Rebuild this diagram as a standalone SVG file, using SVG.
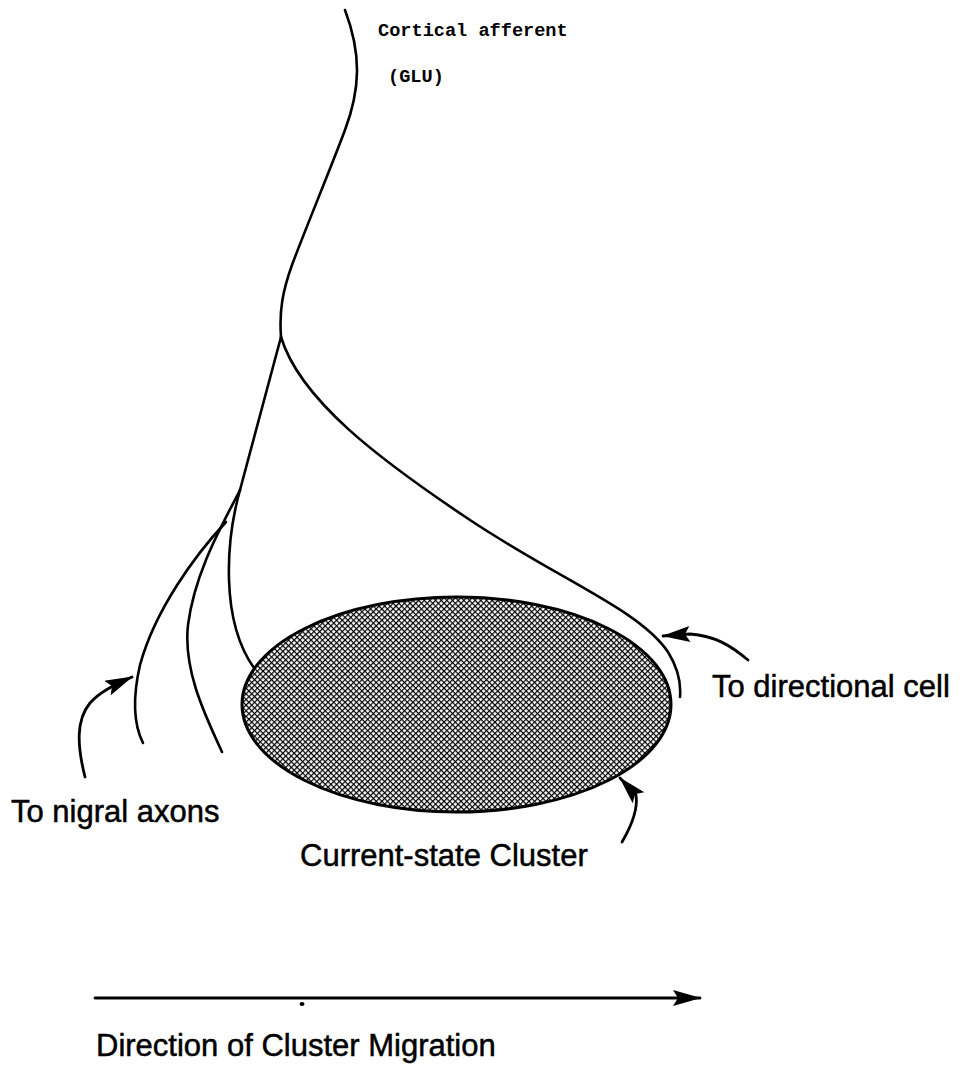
<svg xmlns="http://www.w3.org/2000/svg" width="968" height="1071" viewBox="0 0 968 1071">
<style>
.ax{fill:none;stroke:#000;stroke-width:2.6;stroke-linecap:round;stroke-linejoin:round}
.ar{fill:none;stroke:#000;stroke-width:2.8;stroke-linecap:round}
.lbl{font-family:"Liberation Sans",Arial,Helvetica,sans-serif;font-size:31px;fill:#000;stroke:#000;stroke-width:0.5}
.mono{font-family:"Liberation Mono","Courier New",monospace;font-size:18.6px;font-weight:bold;fill:#000}
</style>
<defs>
<pattern id="hatch" patternUnits="userSpaceOnUse" width="4" height="4" patternTransform="rotate(45)">
<rect width="4" height="4" fill="#fff"/>
<line x1="0" y1="0" x2="0" y2="4" stroke="#000" stroke-width="2.4"/>
<line x1="0" y1="0" x2="4" y2="0" stroke="#000" stroke-width="2.4"/>
</pattern>
<marker id="head" viewBox="0 0 28 16" refX="27" refY="8" markerWidth="30" markerHeight="16" markerUnits="userSpaceOnUse" orient="auto">
<path d="M0,0 L28,8 L0,16 L5,8 Z" fill="#000"/>
</marker>
</defs>
<g id="connectors">
<path id="afferent" class="ax" d="M345,10 C362,55 360,90 345,130 C330,170 305,230 292,265 C283,290 279,310 281,337"/>
<path id="to-directional" class="ax" d="M281,337 C300,400 380,460 470,520 C560,580 640,610 668,652 C678,668 681,685 680,697"/>
<path id="trunk" class="ax" d="M281,337 L240,490"/>
<path id="branch-a" class="ax" d="M240,490 C226,540 220,620 254,668"/>
<path id="branch-b" class="ax" d="M240,490 C225,520 195,570 188,625 C183,670 205,715 222,752"/>
<path id="branch-c" class="ax" d="M226,522 C195,555 155,610 140,665 C132,700 134,725 143,743"/>
<path id="arrow-nigral" class="ar" d="M85,777 C77,745 76,720 90,703 C100,692 112,686 132,677" marker-end="url(#head)"/>
<path id="arrow-directional" class="ar" d="M748,660 C730,645 715,636 690,634 L663,636" marker-end="url(#head)"/>
<path id="arrow-cluster" class="ar" d="M622,842 C632,825 638,808 636,795 L620,778" marker-end="url(#head)"/>
<path id="arrow-migration" class="ar" d="M95,998 L700,998" marker-end="url(#head)"/>
<ellipse cx="302" cy="1004" rx="2.5" ry="2" fill="#000"/>
</g>
<g id="cluster">
<ellipse cx="456.5" cy="704.5" rx="214.5" ry="107.5" fill="url(#hatch)" stroke="#000" stroke-width="3"/>
</g>
<g id="label-cortical">
<text class="mono" x="378" y="36">Cortical afferent</text>
<text class="mono" x="388" y="82">(GLU)</text>
</g>
<g id="label-directional"><text class="lbl" x="712" y="697">To directional cell</text></g>
<g id="label-nigral"><text class="lbl" x="11" y="822">To nigral axons</text></g>
<g id="label-cluster"><text class="lbl" x="300" y="866">Current-state Cluster</text></g>
<g id="label-migration"><text class="lbl" x="96" y="1056">Direction of Cluster Migration</text></g>
</svg>
